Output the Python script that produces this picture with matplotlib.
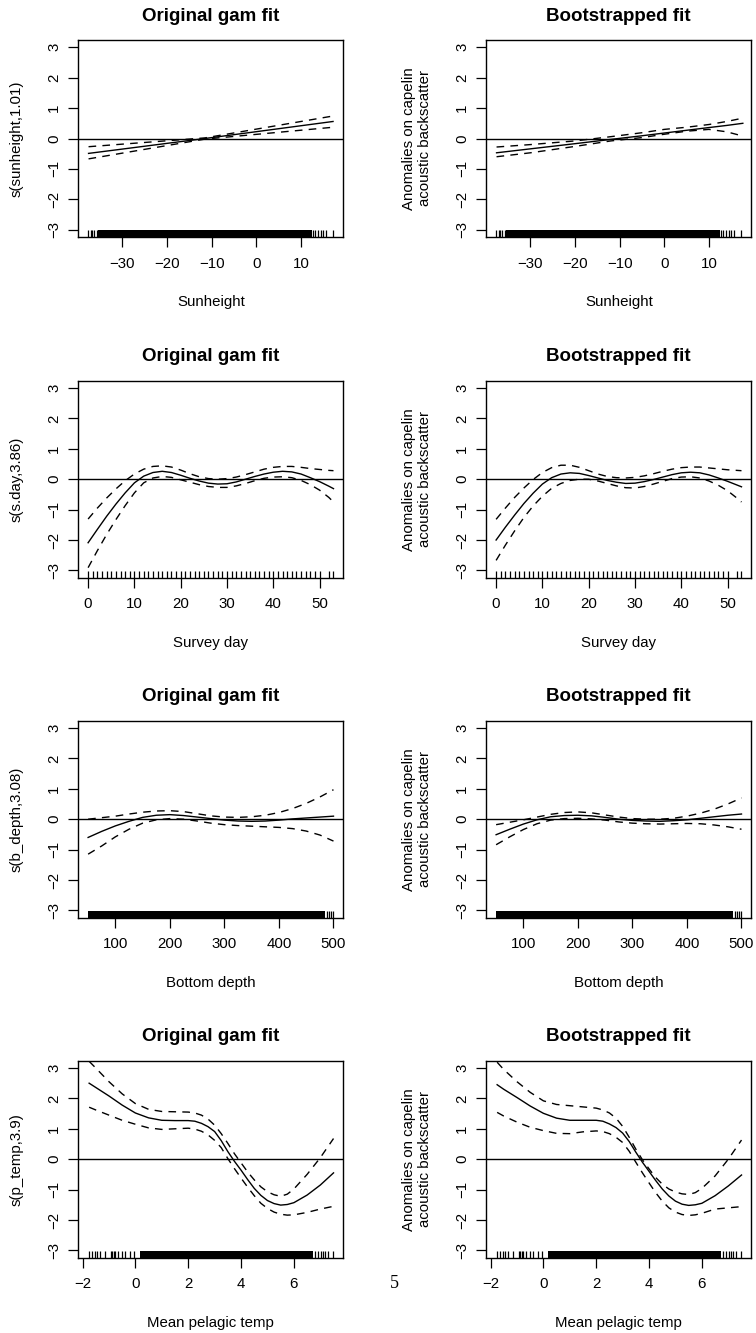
import numpy as np
import matplotlib
matplotlib.use('Agg')
import matplotlib.pyplot as plt

plt.rcParams['font.family'] = ['Liberation Sans', 'DejaVu Sans']
plt.rcParams['font.size'] = 10.8
plt.rcParams['axes.unicode_minus'] = True

# Sunheight term
SUN_ORIG_X = [-37.6, -11.5, 17.2]
SUN_ORIG_FIT = [-0.49, 0.0, 0.56]
SUN_ORIG_UP = [-0.27, 0.02, 0.74]
SUN_ORIG_LO = [-0.67, -0.02, 0.37]

SUN_BOOT_X = [-37.6, -30, -20, -12, -5, 0, 5, 10, 14, 17.6]
SUN_BOOT_FIT = [-0.47, -0.34, -0.17, -0.03, 0.09, 0.18, 0.27, 0.36, 0.43, 0.50]
SUN_BOOT_UP = [-0.28, -0.20, -0.08, 0.06, 0.19, 0.30, 0.37, 0.46, 0.56, 0.67]
SUN_BOOT_LO = [-0.60, -0.47, -0.26, -0.08, 0.03, 0.14, 0.24, 0.30, 0.22, 0.08]

SUN_RUG_DENSE = [(-35.4, 12.4)]
SUN_RUG = [-37.7, -37.1, -36.8, -36.3, -35.8, 12.7, 13.2, 13.8, 14.4, 14.9, 15.7, 17.2]

# Survey day term
DAY_X = [0, 2, 4, 6, 8, 10, 12, 14, 16, 18, 20, 22, 24, 26, 28, 30, 32, 34,
         36, 38, 40, 42, 44, 46, 48, 50, 52, 53]
DAY_ORIG_FIT = [-2.09, -1.65, -1.22, -0.82, -0.45, -0.12, 0.10, 0.22, 0.26,
                0.22, 0.13, 0.03, -0.06, -0.13, -0.16, -0.15, -0.09, 0.00,
                0.09, 0.17, 0.23, 0.26, 0.24, 0.17, 0.05, -0.08, -0.23, -0.31]
DAY_ORIG_UP = [-1.31, -0.95, -0.62, -0.32, -0.05, 0.17, 0.33, 0.42, 0.44,
               0.40, 0.30, 0.18, 0.08, 0.02, 0.00, 0.02, 0.07, 0.15,
               0.24, 0.33, 0.39, 0.42, 0.42, 0.39, 0.35, 0.32, 0.29, 0.28]
DAY_ORIG_LO = [-2.91, -2.35, -1.82, -1.33, -0.87, -0.45, -0.12, 0.04, 0.09,
               0.06, -0.02, -0.10, -0.18, -0.24, -0.27, -0.27, -0.22, -0.14,
               -0.05, 0.03, 0.07, 0.08, 0.05, -0.04, -0.18, -0.36, -0.60, -0.75]

DAY_BOOT_FIT = [-2.00, -1.58, -1.18, -0.80, -0.46, -0.16, 0.05, 0.17, 0.21,
                0.19, 0.12, 0.04, -0.04, -0.10, -0.14, -0.13, -0.08, -0.01,
                0.07, 0.15, 0.21, 0.23, 0.21, 0.14, 0.04, -0.07, -0.19, -0.25]
DAY_BOOT_UP = [-1.32, -0.95, -0.60, -0.29, -0.01, 0.22, 0.38, 0.46, 0.46,
               0.39, 0.28, 0.17, 0.09, 0.05, 0.04, 0.06, 0.11, 0.18,
               0.26, 0.33, 0.38, 0.40, 0.40, 0.37, 0.34, 0.31, 0.29, 0.28]
DAY_BOOT_LO = [-2.67, -2.17, -1.70, -1.26, -0.88, -0.56, -0.30, -0.14, -0.04,
               0.00, 0.00, -0.06, -0.14, -0.22, -0.28, -0.29, -0.24, -0.16,
               -0.07, 0.02, 0.07, 0.08, 0.04, -0.06, -0.20, -0.38, -0.62, -0.75]

DAY_RUG_DENSE = []
DAY_RUG = [0, 1, 2, 3, 4, 5, 6, 7, 8, 9, 10, 11, 12, 13, 14, 15, 16, 17, 18,
           19, 20, 21, 22, 23, 24, 25, 26, 27, 28, 29, 30, 31, 32, 33, 34, 35,
           36, 37, 38, 39, 40, 41, 42, 43, 44, 45, 46, 47, 48, 49, 50, 52, 53]

# Bottom depth term
DEPTH_X = [50, 75, 100, 125, 150, 175, 200, 225, 250, 275, 300, 325, 350,
           375, 400, 425, 450, 475, 500]
DEPTH_ORIG_FIT = [-0.60, -0.40, -0.22, -0.07, 0.06, 0.13, 0.15, 0.12, 0.07,
                  0.02, -0.03, -0.06, -0.07, -0.06, -0.03, 0.01, 0.04, 0.07, 0.10]
DEPTH_ORIG_UP = [0.00, 0.05, 0.10, 0.17, 0.23, 0.27, 0.28, 0.25, 0.18,
                 0.11, 0.07, 0.06, 0.08, 0.13, 0.22, 0.35, 0.52, 0.73, 0.97]
DEPTH_ORIG_LO = [-1.15, -0.88, -0.58, -0.33, -0.13, -0.02, 0.02, 0.00, -0.06,
                 -0.13, -0.18, -0.21, -0.23, -0.25, -0.27, -0.31, -0.39, -0.52, -0.72]

DEPTH_BOOT_FIT = [-0.51, -0.33, -0.16, -0.02, 0.08, 0.12, 0.13, 0.11, 0.06,
                  0.00, -0.04, -0.06, -0.07, -0.05, -0.02, 0.03, 0.08, 0.13, 0.17]
DEPTH_BOOT_UP = [-0.18, -0.10, -0.02, 0.07, 0.16, 0.22, 0.24, 0.21, 0.14,
                 0.07, 0.02, 0.00, 0.00, 0.03, 0.10, 0.20, 0.33, 0.50, 0.70]
DEPTH_BOOT_LO = [-0.84, -0.58, -0.34, -0.15, -0.03, 0.02, 0.03, 0.01, -0.03,
                 -0.09, -0.13, -0.15, -0.16, -0.15, -0.14, -0.15, -0.19, -0.25, -0.33]

DEPTH_RUG_DENSE = [(50.5, 485.0)]
DEPTH_RUG = [488, 492, 496, 499]

# Mean pelagic temperature term
TEMP_X = [-1.75, -1.5, -1.0, -0.5, 0.0, 0.5, 1.0, 1.5, 2.0, 2.25, 2.5, 2.75,
          3.0, 3.25, 3.5, 3.75, 4.0, 4.25, 4.5, 4.75, 5.0, 5.25, 5.5, 5.75,
          6.0, 6.5, 7.0, 7.5]
TEMP_ORIG_FIT = [2.50, 2.36, 2.08, 1.78, 1.52, 1.36, 1.28, 1.27, 1.27, 1.25,
                 1.18, 1.07, 0.91, 0.61, 0.25, -0.07, -0.36, -0.67, -0.96,
                 -1.19, -1.36, -1.46, -1.51, -1.49, -1.43, -1.18, -0.85, -0.45]
TEMP_ORIG_UP = [3.22, 3.00, 2.55, 2.15, 1.83, 1.64, 1.57, 1.56, 1.55, 1.52,
                1.45, 1.32, 1.12, 0.84, 0.52, 0.18, -0.12, -0.42, -0.68,
                -0.91, -1.07, -1.17, -1.22, -1.15, -0.98, -0.50, 0.05, 0.68]
TEMP_ORIG_LO = [1.71, 1.62, 1.45, 1.28, 1.15, 1.03, 0.98, 1.00, 1.02, 0.99,
                0.92, 0.80, 0.62, 0.38, 0.02, -0.31, -0.62, -0.92, -1.20,
                -1.45, -1.62, -1.74, -1.81, -1.84, -1.83, -1.75, -1.64, -1.55]

TEMP_BOOT_FIT = [2.45, 2.30, 2.03, 1.75, 1.51, 1.35, 1.28, 1.28, 1.28, 1.25,
                 1.16, 1.04, 0.86, 0.58, 0.23, -0.10, -0.40, -0.70, -0.98,
                 -1.21, -1.38, -1.48, -1.52, -1.50, -1.45, -1.20, -0.88, -0.52]
TEMP_BOOT_UP = [3.19, 2.95, 2.55, 2.20, 1.92, 1.80, 1.76, 1.72, 1.68, 1.62,
                1.52, 1.35, 1.08, 0.72, 0.33, -0.02, -0.32, -0.60, -0.82,
                -0.98, -1.08, -1.14, -1.16, -1.10, -0.96, -0.55, 0.00, 0.63]
TEMP_BOOT_LO = [1.54, 1.42, 1.22, 1.05, 0.94, 0.85, 0.84, 0.90, 0.93, 0.91,
                0.84, 0.72, 0.55, 0.26, -0.10, -0.45, -0.78, -1.10, -1.38,
                -1.60, -1.74, -1.82, -1.85, -1.83, -1.78, -1.64, -1.60, -1.56]

TEMP_RUG_DENSE = [(0.19, 6.72)]
TEMP_RUG = [-1.76, -1.64, -1.51, -1.45, -1.32, -1.16, -0.94, -0.88, -0.82,
            -0.76, -0.66, -0.50, -0.38, -0.19, -0.07, 6.81, 6.91, 7.01, 7.10,
            7.18, 7.28, 7.47]

Y_TICKS = [-3, -2, -1, 0, 1, 2, 3]
Y_LIM = (-3.24, 3.24)

BOOT_YLABEL = 'Anomalies on capelin\nacoustic backscatter'

ROWS = [
    {
        'xlabel': 'Sunheight', 'ylabel': 's(sunheight,1.01)',
        'xlim': (-39.9, 19.5), 'xticks': [-30, -20, -10, 0, 10],
        'orig': (SUN_ORIG_X, SUN_ORIG_FIT, SUN_ORIG_UP, SUN_ORIG_LO),
        'boot': (SUN_BOOT_X, SUN_BOOT_FIT, SUN_BOOT_UP, SUN_BOOT_LO),
        'rug': (SUN_RUG_DENSE, SUN_RUG),
    },
    {
        'xlabel': 'Survey day', 'ylabel': 's(s.day,3.86)',
        'xlim': (-2.12, 55.12), 'xticks': [0, 10, 20, 30, 40, 50],
        'orig': (DAY_X, DAY_ORIG_FIT, DAY_ORIG_UP, DAY_ORIG_LO),
        'boot': (DAY_X, DAY_BOOT_FIT, DAY_BOOT_UP, DAY_BOOT_LO),
        'rug': (DAY_RUG_DENSE, DAY_RUG),
    },
    {
        'xlabel': 'Bottom depth', 'ylabel': 's(b_depth,3.08)',
        'xlim': (32, 518), 'xticks': [100, 200, 300, 400, 500],
        'orig': (DEPTH_X, DEPTH_ORIG_FIT, DEPTH_ORIG_UP, DEPTH_ORIG_LO),
        'boot': (DEPTH_X, DEPTH_BOOT_FIT, DEPTH_BOOT_UP, DEPTH_BOOT_LO),
        'rug': (DEPTH_RUG_DENSE, DEPTH_RUG),
    },
    {
        'xlabel': 'Mean pelagic temp', 'ylabel': 's(p_temp,3.9)',
        'xlim': (-2.16, 7.87), 'xticks': [-2, 0, 2, 4, 6],
        'orig': (TEMP_X, TEMP_ORIG_FIT, TEMP_ORIG_UP, TEMP_ORIG_LO),
        'boot': (TEMP_X, TEMP_BOOT_FIT, TEMP_BOOT_UP, TEMP_BOOT_LO),
        'rug': (TEMP_RUG_DENSE, TEMP_RUG),
    },
]

W, H = 756, 1333
AX_W, AX_H = 265, 197
COL_LEFT = [78.3, 486.3]
ROW_TOP = [40, 380.7, 720.7, 1060.7]


def fmt(v):
    return str(v).replace('-', '\u2212')


# draw_term draws one smooth term with its confidence band and rug.
def draw_term(ax, row, curves, title, ylabel, ylabel_x):
    x, fit, up, lo = curves
    ax.axhline(0, color='black', lw=1.0)
    ax.plot(x, fit, color='black', lw=1.0)
    for band in (up, lo):
        ax.plot(x, band, color='black', lw=1.0, linestyle=(0, (5.5, 4.5)))

    dense, sparse = row['rug']
    for lo_x, hi_x in dense:
        ax.axvspan(lo_x, hi_x, ymin=0, ymax=0.033, color='black', lw=0)
    ax.vlines(sparse, 0, 0.033, transform=ax.get_xaxis_transform(),
              color='black', lw=0.9)

    ax.set_xlim(*row['xlim'])
    ax.set_ylim(*Y_LIM)
    ax.set_xticks(row['xticks'], labels=[fmt(t) for t in row['xticks']])
    ax.set_yticks(Y_TICKS, labels=[fmt(t) for t in Y_TICKS],
                  rotation=90, va='center')
    ax.tick_params(direction='out', length=7.2, width=0.9, color='black')
    ax.tick_params(axis='x', pad=7)
    ax.tick_params(axis='y', pad=5)
    for s in ax.spines.values():
        s.set_linewidth(1.0)

    ax.set_title(title, fontsize=13.5, fontweight='bold', pad=13.9)
    ax.set_xlabel(row['xlabel'], va='top')
    ax.xaxis.set_label_coords(0.5, -0.294)
    ax.set_ylabel(ylabel, va='center', linespacing=1.2)
    ax.yaxis.set_label_coords(ylabel_x, 0.5)


fig = plt.figure(figsize=(W / 100, H / 100), dpi=100)

for r, row in enumerate(ROWS):
    bottom = 1 - (ROW_TOP[r] + AX_H) / H
    ax_o = fig.add_axes([COL_LEFT[0] / W, bottom, AX_W / W, AX_H / H])
    draw_term(ax_o, row, row['orig'], 'Original gam fit', row['ylabel'], -0.2325)
    ax_b = fig.add_axes([COL_LEFT[1] / W, bottom, AX_W / W, AX_H / H])
    draw_term(ax_b, row, row['boot'], 'Bootstrapped fit', BOOT_YLABEL, -0.2615)

# page number
fig.text(394.7 / W, 1 - 1283.7 / H, '5', family='Liberation Serif',
         fontsize=13, ha='center', va='center')

fig.savefig('out.png', dpi=100)
